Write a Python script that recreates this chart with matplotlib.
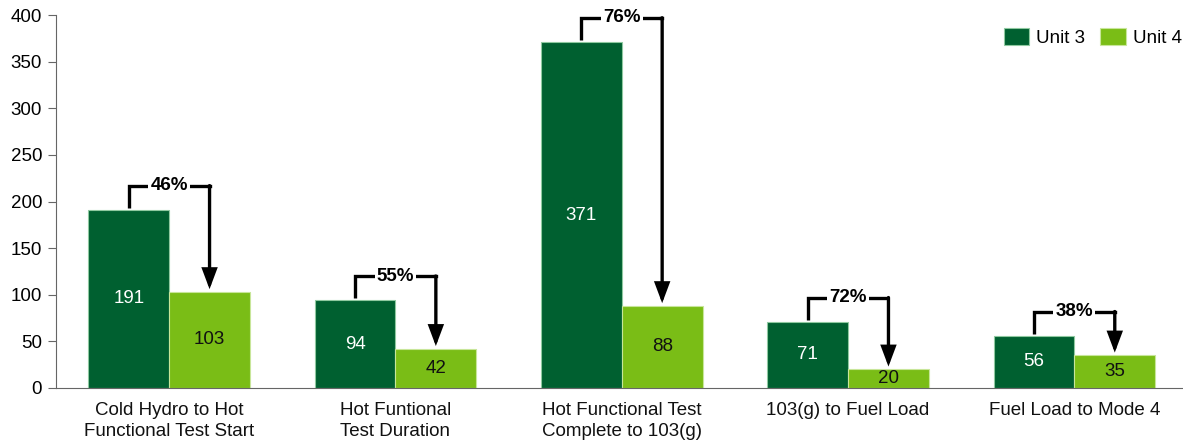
import numpy as np
import matplotlib
matplotlib.use('Agg')
import matplotlib.pyplot as plt

plt.rcParams['font.family'] = ['Liberation Sans', 'DejaVu Sans']

categories = ['Cold Hydro to Hot\nFunctional Test Start',
              'Hot Funtional\nTest Duration',
              'Hot Functional Test\nComplete to 103(g)',
              '103(g) to Fuel Load',
              'Fuel Load to Mode 4']
unit3 = [191, 94, 371, 71, 56]
unit4 = [103, 42, 88, 20, 35]
reductions = ['46%', '55%', '76%', '72%', '38%']

dark = '#006030'
light = '#7abd16'
fs = 13.5

fig = plt.figure(figsize=(11.83, 4.43), dpi=100)
ax = fig.add_axes([56/1183, 1 - 388/443, 1 - 56/1183, (388 - 15)/443])

x = np.arange(len(categories))
w = 0.357
ax.bar(x - w/2, unit3, w, color=dark, edgecolor='#8fc9a0', linewidth=0.8, label='Unit 3')
ax.bar(x + w/2, unit4, w, color=light, edgecolor='#c8e69a', linewidth=0.8, label='Unit 4')

for i in range(len(x)):
    ax.text(x[i] - w/2, unit3[i]/2, str(unit3[i]), ha='center', va='center',
            color='white', fontsize=fs)
    ax.text(x[i] + w/2, unit4[i]/2, str(unit4[i]), ha='center', va='center',
            color='#111111', fontsize=fs)

    # bracket with arrow
    x0 = x[i] - w/2
    x1 = x[i] + w/2
    level = unit3[i] + 26
    ax.plot([x0, x0, x1], [unit3[i] + 2, level, level], color='black', lw=2.4,
            solid_joinstyle='miter', solid_capstyle='butt', zorder=3)
    ax.annotate('', xy=(x1, unit4[i] + 3), xytext=(x1, level),
                arrowprops=dict(arrowstyle='-|>,head_width=0.3,head_length=0.8',
                                mutation_scale=14, lw=2.4, color='black',
                                shrinkA=0, shrinkB=0, joinstyle='miter'),
                zorder=3)
    ax.plot([x1 - 0.003, x1], [level, level], color='black', lw=2.4,
            solid_capstyle='projecting', zorder=3)
    ax.text(x[i], level, reductions[i], ha='center', va='center', fontsize=fs,
            fontweight='bold', zorder=4,
            bbox=dict(facecolor='white', edgecolor='none', pad=1.5))

ax.set_xlim(-0.5, 4.48)
ax.set_ylim(0, 400)
ax.set_yticks(np.arange(0, 401, 50))
ax.set_xticks(x)
ax.set_xticklabels(categories, fontsize=fs, color='#111111', linespacing=1.3)
ax.tick_params(axis='x', length=0, pad=10)
ax.tick_params(axis='y', color='#666666', labelsize=fs, length=6, pad=4)

for s in ['top', 'right']:
    ax.spines[s].set_visible(False)
ax.spines['left'].set_color('#666666')
ax.spines['bottom'].set_color('#666666')

ax.legend(loc='upper right', bbox_to_anchor=(1.006, 0.985), ncol=2, frameon=False,
          fontsize=fs, handlelength=1.35, handleheight=1.0, columnspacing=0.8,
          handletextpad=0.4, borderaxespad=0)

fig.savefig('out.png', dpi=100)
